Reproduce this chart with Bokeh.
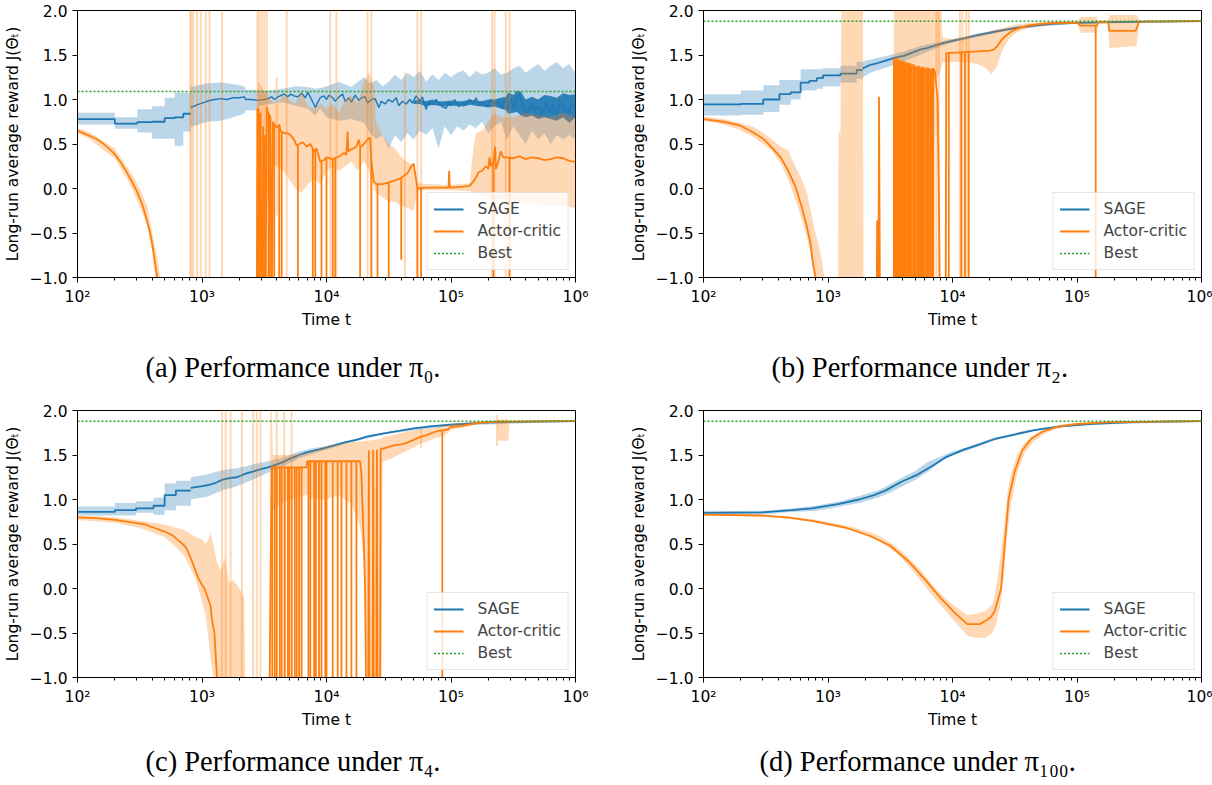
from bokeh.plotting import figure
from bokeh.models import Range1d, FixedTicker, CustomJSTickFormatter, Legend, LegendItem
from bokeh.layouts import row, column
from bokeh.embed import file_html
from bokeh.resources import INLINE

BLUE = "#1f77b4"
ORANGE = "#ff7f0e"
GREEN = "#2ca02c"
FLOOR = -1.5   # off-chart level (below the -1 limit)
ROOF = 2.5     # off-chart level (above the 2 limit)

# ---------------------------------------------------------------- data
# all times are given as log10(t)
captions = ["(a) Performance under \u03c0\u2080.", "(b) Performance under \u03c0\u2082.",
            "(c) Performance under \u03c0\u2084.", "(d) Performance under \u03c0\u2081\u2080\u2080."]
best_values = [1.09, 1.88, 1.88, 1.88]
x_ticks = [1e2, 1e3, 1e4, 1e5, 1e6]
y_ticks = [-1.0, -0.5, 0.0, 0.5, 1.0, 1.5, 2.0]

# ---- panel a (pi_0)
a_sage_step = [(2.00, .78, .72, .85), (2.30, .73, .67, .80), (2.48, .745, .63, .89), (2.60, .75, .56, .925),
               (2.70, .79, .56, 1.02), (2.78, .80, .48, 1.08), (2.85, .84, .64, 1.08)]
a_sage_step_end = 2.91
a_sage = [(2.91, .91), (2.96, .94), (3.00, .96), (3.04, .98), (3.10, 1.0), (3.15, 1.01), (3.20, 1.0), (3.25, 1.02),
          (3.30, 1.02), (3.34, 1.03), (3.35, 1.0), (3.40, 1.0), (3.45, .99), (3.50, 1.0), (3.53, 1.01), (3.56, 1.03),
          (3.58, 1.0), (3.61, 1.03), (3.64, 1.05), (3.66, 1.06), (3.69, 1.03), (3.71, 1.06), (3.74, 1.04), (3.77, 1.03),
          (3.80, 1.07), (3.83, 1.02), (3.85, 1.08), (3.88, 1.0), (3.91, .91), (3.93, .97), (3.95, 1.02), (3.98, 1.04),
          (4.00, 1.0), (4.02, 1.05), (4.05, 1.02), (4.07, .98), (4.10, 1.03), (4.13, 1.06), (4.15, .98), (4.18, 1.02),
          (4.20, .97), (4.23, 1.05), (4.26, .99), (4.28, 1.02), (4.31, 1.03), (4.33, .96), (4.36, 1.0), (4.39, 1.01),
          (4.42, .91), (4.44, .98), (4.47, .95), (4.50, 1.0), (4.53, .97), (4.56, 1.02), (4.58, .93), (4.61, .98),
          (4.64, .95), (4.67, 1.0), (4.69, .96), (4.72, 1.04), (4.75, .98), (4.77, 1.03), (4.80, .89), (4.82, .97),
          (4.85, .94), (4.88, 1.0), (4.90, .96), (4.93, .92), (4.96, .90), (4.98, .97), (5.00, .93), (5.03, 1.0),
          (5.06, .92), (5.09, .96), (5.12, .94), (5.15, 1.0), (5.18, .95), (5.20, 1.02), (5.23, .93), (5.26, .98),
          (5.29, .92), (5.32, 1.0), (5.35, .94), (5.38, .97), (5.41, .90), (5.44, 1.02), (5.46, .88), (5.48, 1.0),
          (5.50, .92), (5.52, .97), (5.55, 1.06), (5.58, .90), (5.61, .84), (5.64, .95), (5.67, .88), (5.70, .92),
          (5.73, .83), (5.76, .96), (5.79, .86), (5.82, .94), (5.85, .82), (5.88, .97), (5.91, .88), (5.94, .85),
          (5.97, .95), (6.00, .90)]
a_sage_dense = [(4.70, .95, .99), (4.75, .95, 1.0), (4.80, .92, .98), (4.85, .94, 1.0), (4.90, .93, .98),
                (4.95, .92, .98), (5.00, .93, .99), (5.05, .93, .98), (5.10, .92, .98), (5.15, .94, 1.0),
                (5.20, .93, .99), (5.25, .92, .98), (5.30, .91, 1.0), (5.35, .92, 1.0), (5.40, .90, 1.02),
                (5.44, .88, 1.03), (5.46, .84, 1.08), (5.50, .85, 1.05), (5.53, .86, 1.10), (5.56, .82, 1.09),
                (5.60, .80, 1.0), (5.65, .82, 1.03), (5.70, .78, 1.0), (5.75, .80, 1.05), (5.80, .78, 1.04),
                (5.85, .76, 1.02), (5.90, .80, 1.07), (5.95, .74, 1.05), (6.00, .80, 1.06)]
a_sage_band = [(2.91, .69, 1.14), (3.04, .75, 1.18), (3.15, .76, 1.19), (3.25, .80, 1.17), (3.34, .84, 1.15),
               (3.35, .88, 1.11), (3.45, .88, 1.11), (3.46, .93, 1.10), (3.55, .95, 1.10), (3.65, .97, 1.12),
               (3.75, .93, 1.15), (3.85, .90, 1.14), (3.91, .82, 1.12), (3.95, .90, 1.13), (4.00, .80, 1.15),
               (4.10, .76, 1.20), (4.20, .78, 1.14), (4.30, .74, 1.25), (4.35, .62, 1.18), (4.40, .55, 1.22),
               (4.45, .60, 1.15), (4.50, .45, 1.20), (4.55, .60, 1.28), (4.60, .52, 1.22), (4.65, .62, 1.30),
               (4.70, .55, 1.25), (4.75, .65, 1.32), (4.80, .60, 1.20), (4.85, .68, 1.28), (4.90, .45, 1.22),
               (4.95, .70, 1.30), (5.00, .60, 1.25), (5.05, .70, 1.30), (5.10, .65, 1.33), (5.15, .72, 1.25),
               (5.20, .68, 1.32), (5.25, .75, 1.28), (5.30, .62, 1.30), (5.35, .70, 1.35), (5.40, .75, 1.28),
               (5.45, .55, 1.30), (5.50, .70, 1.35), (5.55, .60, 1.38), (5.60, .50, 1.30), (5.65, .65, 1.35),
               (5.70, .55, 1.40), (5.75, .62, 1.32), (5.80, .50, 1.38), (5.85, .60, 1.42), (5.90, .55, 1.35),
               (5.95, .60, 1.40), (6.00, .55, 1.30)]
a_ac = [(2.00, .65), (2.05, .62), (2.10, .59), (2.16, .55), (2.22, .49), (2.29, .40), (2.35, .29), (2.40, .17),
        (2.44, .07), (2.48, -.04), (2.52, -.18), (2.55, -.32), (2.58, -.48), (2.60, -.62), (2.62, -.80), (2.64, -1.0),
        (2.66, FLOOR), (3.44, FLOOR), (3.445, .90), (3.45, FLOOR), (3.47, .85), (3.48, FLOOR), (3.50, .60),
        (3.51, FLOOR), (3.52, .92), (3.53, .85), (3.55, .80), (3.56, FLOOR), (3.57, .75), (3.60, .68), (3.62, .72),
        (3.63, .65), (3.66, .62), (3.69, .62), (3.71, .60), (3.74, .55), (3.76, .48), (3.78, .50), (3.81, .52),
        (3.84, .47), (3.87, .50), (3.90, .42), (3.92, .45), (3.95, .30), (3.98, .32), (4.00, .35), (4.05, .33),
        (4.10, .36), (4.14, .40), (4.16, .38), (4.17, .64), (4.175, .42), (4.20, .44), (4.24, .47), (4.26, .55),
        (4.27, .46), (4.30, .50), (4.33, .55), (4.35, .57), (4.36, .30), (4.38, .08), (4.40, .05), (4.45, .05),
        (4.50, .07), (4.55, .09), (4.60, .12), (4.65, .17), (4.68, .25), (4.70, .28), (4.72, .10), (4.73, .00),
        (4.80, .01), (4.90, .01), (4.98, .01), (4.985, .20), (4.99, .01), (5.10, .02), (5.15, .03), (5.18, .08),
        (5.20, .12), (5.22, .18), (5.25, .20), (5.28, .25), (5.30, .22), (5.31, .35), (5.32, .25), (5.34, .30),
        (5.355, .47), (5.36, .22), (5.38, .30), (5.40, .42), (5.42, .35), (5.45, .35), (5.50, .34), (5.55, .36),
        (5.60, .33), (5.65, .35), (5.70, .34), (5.75, .32), (5.80, .33), (5.85, .35), (5.90, .34), (5.95, .31),
        (6.00, .30)]
a_ac_band = [(2.00, .62, .68), (2.10, .55, .63), (2.20, .44, .54), (2.30, .34, .45), (2.40, .10, .24),
             (2.45, -.04, .13), (2.50, -.20, .00), (2.56, -.42, -.20), (2.60, -.72, -.50), (2.63, -1.1, -.70),
             (2.65, -1.3, -.85), (2.68, FLOOR, -1.2), (2.70, FLOOR, FLOOR), (3.44, FLOOR, FLOOR), (3.45, FLOOR, 1.2),
             (3.50, -.50, 1.10), (3.55, .30, 1.0), (3.60, .25, .95), (3.65, .20, 1.05), (3.70, .10, 1.0),
             (3.75, .00, .95), (3.80, -.05, 1.10), (3.85, .05, .92), (3.90, .10, .90), (3.95, .05, .95),
             (4.00, .20, .90), (4.05, .25, .95), (4.10, .20, .85), (4.15, .25, 1.0), (4.20, .30, 1.05),
             (4.25, .20, .95), (4.30, .30, 1.20), (4.34, .20, 1.30), (4.38, .00, 1.15), (4.40, -.05, .75),
             (4.45, -.10, .60), (4.50, -.15, .50), (4.55, -.15, .45), (4.60, -.20, .35), (4.65, -.22, .30),
             (4.70, -.25, .25), (4.73, -.02, .06), (4.80, -.02, .05), (5.00, -.02, .04), (5.15, -.03, .06),
             (5.18, -.05, .45), (5.20, -.05, .62), (5.25, -.08, .65), (5.30, -.10, .75), (5.35, -.12, .85),
             (5.40, -.12, .80), (5.50, -.15, .80), (5.60, -.17, .85), (5.70, -.18, .82), (5.80, -.20, .80),
             (5.90, -.20, .85), (6.00, -.22, .80)]
a_ac_light = [(2.905, FLOOR, ROOF), (2.915, FLOOR, ROOF), (2.93, FLOOR, ROOF), (2.96, FLOOR, ROOF),
              (2.99, FLOOR, ROOF), (3.03, FLOOR, ROOF), (3.06, FLOOR, ROOF), (3.16, FLOOR, ROOF),
              (3.445, FLOOR, ROOF), (3.46, FLOOR, ROOF), (3.48, FLOOR, ROOF), (3.50, FLOOR, ROOF),
              (3.52, FLOOR, ROOF), (3.60, -.30, 1.25), (3.68, FLOOR, ROOF), (4.03, FLOOR, ROOF),
              (4.08, FLOOR, ROOF), (4.33, FLOOR, ROOF), (4.36, FLOOR, ROOF), (4.63, -1.0, 1.3),
              (4.73, FLOOR, ROOF), (4.76, FLOOR, ROOF), (5.33, FLOOR, ROOF), (5.35, FLOOR, ROOF),
              (5.44, FLOOR, ROOF), (5.47, FLOOR, ROOF)]
a_ac_drops = [(3.455, .90, FLOOR), (3.465, .85, FLOOR), (3.49, .70, FLOOR), (3.505, .60, FLOOR), (3.535, .85, FLOOR),
              (3.545, .82, FLOOR), (3.58, .72, FLOOR), (3.62, .72, FLOOR), (3.64, .64, FLOOR), (3.77, .48, FLOOR),
              (3.89, .45, FLOOR), (3.91, .44, FLOOR), (3.96, .30, FLOOR), (4.00, .35, FLOOR), (4.05, .33, FLOOR),
              (4.07, .34, FLOOR), (4.27, .46, FLOOR), (4.36, .30, FLOOR), (4.41, .05, FLOOR), (4.50, .07, FLOOR),
              (4.60, .12, -.80), (4.73, .00, FLOOR), (4.76, .01, FLOOR), (5.34, .30, FLOOR), (5.47, .35, FLOOR)]

# ---- panel b (pi_2)
b_sage_step = [(2.00, .945, .82, 1.06), (2.30, .95, .83, 1.10), (2.48, 1.0, .86, 1.16), (2.61, 1.06, .94, 1.22),
               (2.70, 1.08, 1.0, 1.22), (2.78, 1.19, 1.10, 1.34), (2.85, 1.21, 1.10, 1.34), (2.91, 1.24, 1.12, 1.34),
               (2.96, 1.27, 1.15, 1.35), (3.10, 1.29, 1.19, 1.38), (3.23, 1.33, 1.23, 1.42)]
b_sage_step_end = 3.28
b_sage = [(3.28, 1.35), (3.34, 1.39), (3.40, 1.41), (3.47, 1.44), (3.54, 1.47), (3.61, 1.49), (3.68, 1.53),
          (3.74, 1.56), (3.80, 1.58), (3.87, 1.61), (3.94, 1.64), (4.00, 1.66), (4.10, 1.69), (4.19, 1.72),
          (4.30, 1.75), (4.41, 1.78), (4.53, 1.81), (4.66, 1.83), (4.80, 1.85), (5.00, 1.86), (5.30, 1.87),
          (5.60, 1.876), (6.00, 1.88)]
b_sage_band = [(3.28, 1.25, 1.43), (3.34, 1.30, 1.45), (3.47, 1.36, 1.49), (3.61, 1.43, 1.54), (3.74, 1.50, 1.60),
               (3.87, 1.58, 1.64), (4.00, 1.64, 1.68), (4.20, 1.70, 1.74), (4.40, 1.765, 1.795), (4.70, 1.82, 1.845),
               (5.00, 1.85, 1.87), (6.00, 1.875, 1.885)]
b_ac = [(2.00, .78), (2.16, .75), (2.29, .71), (2.40, .63), (2.48, .56), (2.55, .46), (2.62, .35), (2.68, .20),
        (2.74, .015), (2.79, -.21), (2.83, -.43), (2.86, -.62), (2.88, -.85), (2.90, -1.0), (2.92, FLOOR),
        (3.39, FLOOR), (3.395, -.36), (3.40, FLOOR), (3.405, FLOOR), (3.41, 1.03), (3.418, FLOOR), (3.84, FLOOR),
        (3.845, 1.35), (3.86, 1.30), (3.88, 1.0), (3.89, .0), (3.90, FLOOR), (3.945, FLOOR), (3.95, 1.52),
        (4.20, 1.54), (4.30, 1.55), (4.33, 1.56), (4.36, 1.60), (4.40, 1.68), (4.44, 1.73), (4.48, 1.77),
        (4.53, 1.80), (4.60, 1.83), (4.70, 1.85), (4.80, 1.86), (5.00, 1.865), (5.03, 1.83), (5.16, 1.83),
        (5.17, 1.87), (5.25, 1.87), (5.26, 1.77), (5.47, 1.77), (5.50, 1.875), (6.00, 1.88)]
b_ac_band = [(2.00, .76, .81), (2.16, .72, .78), (2.29, .66, .74), (2.40, .58, .69), (2.48, .50, .63),
             (2.55, .42, .55), (2.62, .28, .47), (2.68, .10, .43), (2.72, -.05, .30), (2.78, -.30, .13),
             (2.83, -.55, -.05), (2.87, -.80, -.30), (2.89, -1.0, -.45), (2.92, FLOOR, -.60), (2.95, FLOOR, -.80),
             (2.97, FLOOR, -1.0), (2.99, FLOOR, FLOOR), (3.08, FLOOR, FLOOR), (3.085, FLOOR, .65), (3.10, FLOOR, .60),
             (3.11, FLOOR, ROOF), (3.28, FLOOR, ROOF), (3.285, FLOOR, FLOOR), (3.52, FLOOR, FLOOR),
             (3.53, FLOOR, ROOF), (3.84, FLOOR, ROOF), (3.86, 1.20, ROOF), (3.90, 1.30, ROOF), (3.92, 1.42, 1.70),
             (4.00, 1.42, 1.68), (4.10, 1.42, 1.70), (4.20, 1.40, 1.73), (4.27, 1.35, 1.75), (4.31, 1.28, 1.77),
             (4.35, 1.35, 1.79), (4.40, 1.55, 1.80), (4.45, 1.67, 1.82), (4.50, 1.74, 1.84), (4.60, 1.80, 1.86),
             (4.80, 1.84, 1.87), (5.00, 1.85, 1.875), (5.03, 1.75, 1.93), (5.16, 1.75, 1.93), (5.17, 1.86, 1.885),
             (5.25, 1.86, 1.885), (5.26, 1.58, 1.95), (5.48, 1.60, 1.95), (5.50, 1.87, 1.885), (6.00, 1.875, 1.885)]
b_ac_light = [(3.87, FLOOR, ROOF), (3.89, FLOOR, ROOF), (4.06, FLOOR, ROOF), (4.08, FLOOR, ROOF),
              (4.11, FLOOR, ROOF), (4.13, FLOOR, ROOF)]
b_ac_dense = [(3.530, 1.46), (3.540, 1.45), (3.550, 1.47), (3.560, 1.44), (3.570, 1.45), (3.580, 1.43),
              (3.595, 1.44), (3.605, 1.42), (3.615, 1.43), (3.625, 1.41), (3.640, 1.42), (3.650, 1.40),
              (3.660, 1.41), (3.670, 1.39), (3.685, 1.40), (3.695, 1.38), (3.705, 1.38), (3.720, 1.37),
              (3.730, 1.38), (3.740, 1.36), (3.755, 1.37), (3.765, 1.36), (3.775, 1.36), (3.790, 1.35),
              (3.800, 1.36), (3.810, 1.35), (3.825, 1.34), (3.835, 1.35), (3.845, 1.34)]
b_ac_drops = [(3.97, 1.53, FLOOR), (4.07, 1.53, FLOOR), (4.10, 1.54, FLOOR), (4.13, 1.54, FLOOR), (5.15, 1.83, FLOOR)]

# ---- panel c (pi_4)
c_sage_step = [(2.00, .86, .82, .92), (2.30, .88, .82, .96), (2.47, .90, .85, .98), (2.61, .93, .83, 1.02),
               (2.70, 1.05, .88, 1.18), (2.79, 1.10, .93, 1.21)]
c_sage_step_end = 2.91
c_sage = [(2.91, 1.13), (3.00, 1.15), (3.04, 1.16), (3.10, 1.18), (3.16, 1.22), (3.22, 1.24), (3.28, 1.25),
          (3.35, 1.29), (3.40, 1.31), (3.47, 1.34), (3.53, 1.36), (3.59, 1.39), (3.65, 1.42), (3.71, 1.46),
          (3.78, 1.50), (3.84, 1.53), (3.90, 1.55), (3.99, 1.58), (4.07, 1.61), (4.14, 1.64), (4.24, 1.67),
          (4.33, 1.71), (4.45, 1.74), (4.58, 1.77), (4.70, 1.80), (4.85, 1.825), (5.00, 1.84), (5.22, 1.86),
          (5.50, 1.873), (6.00, 1.88)]
c_sage_band = [(2.91, 1.0, 1.25), (3.04, 1.03, 1.28), (3.16, 1.10, 1.33), (3.28, 1.15, 1.35), (3.40, 1.22, 1.39),
               (3.53, 1.30, 1.43), (3.65, 1.37, 1.47), (3.78, 1.46, 1.54), (3.90, 1.52, 1.58), (4.00, 1.56, 1.60),
               (4.20, 1.645, 1.675), (4.50, 1.74, 1.765), (5.00, 1.83, 1.85), (6.00, 1.875, 1.885)]
c_ac = [(2.00, .80), (2.15, .79), (2.30, .77), (2.45, .74), (2.54, .72), (2.62, .68), (2.70, .64), (2.76, .60),
        (2.82, .53), (2.86, .48), (2.88, .44), (2.91, .34), (2.94, .23), (2.97, .12), (3.00, .04), (3.02, .0),
        (3.05, -.12), (3.07, -.20), (3.08, -.35), (3.10, -.50), (3.11, -.75), (3.12, -1.0), (3.13, FLOOR),
        (3.54, FLOOR), (3.56, 1.36), (3.84, 1.36), (3.845, 1.43), (4.27, 1.43), (4.28, 1.30), (4.29, .90),
        (4.30, .50), (4.31, .0), (4.32, FLOOR), (4.335, FLOOR), (4.34, 1.55), (4.345, FLOOR), (4.37, FLOOR),
        (4.375, 1.56), (4.38, FLOOR), (4.40, FLOOR), (4.405, 1.56), (4.41, FLOOR), (4.43, FLOOR), (4.435, 1.57),
        (4.45, 1.57), (4.50, 1.59), (4.55, 1.61), (4.60, 1.62), (4.65, 1.64), (4.70, 1.67), (4.75, 1.70),
        (4.80, 1.72), (4.85, 1.75), (4.90, 1.77), (4.95, 1.78), (4.98, 1.79), (4.99, 1.81), (5.10, 1.83),
        (5.22, 1.86), (5.30, 1.87), (5.40, 1.875), (6.00, 1.88)]
c_ac_band = [(2.00, .77, .82), (2.30, .74, .80), (2.50, .68, .76), (2.70, .58, .72), (2.80, .45, .68),
             (2.85, .38, .66), (2.90, .25, .62), (2.95, .10, .58), (3.00, -.15, .55), (3.03, -.30, .50),
             (3.05, -.55, .55), (3.07, -.80, .62), (3.09, -1.0, .50), (3.12, FLOOR, .30), (3.15, FLOOR, .20),
             (3.18, FLOOR, .35), (3.22, FLOOR, .05), (3.25, FLOOR, .10), (3.30, FLOOR, .0), (3.34, FLOOR, -.10),
             (3.35, FLOOR, FLOOR), (3.54, FLOOR, FLOOR), (3.55, FLOOR, ROOF), (3.57, .90, 1.50), (3.70, 1.0, 1.50),
             (3.84, 1.05, 1.52), (3.90, 1.0, 1.55), (4.00, 1.0, 1.60), (4.10, 1.05, 1.62), (4.20, .95, 1.65),
             (4.27, .70, 1.65), (4.30, .30, 1.66), (4.33, FLOOR, 1.66), (4.44, FLOOR, 1.68), (4.45, 1.42, 1.70),
             (4.55, 1.48, 1.73), (4.65, 1.55, 1.76), (4.75, 1.62, 1.78), (4.85, 1.68, 1.80), (4.95, 1.72, 1.83),
             (5.00, 1.78, 1.85), (5.10, 1.81, 1.86), (5.20, 1.84, 1.87), (5.30, 1.86, 1.88), (5.37, 1.86, 1.885),
             (5.38, 1.66, 1.90), (5.46, 1.66, 1.90), (5.47, 1.87, 1.885), (6.00, 1.875, 1.885)]
c_ac_light = [(3.16, FLOOR, ROOF), (3.19, FLOOR, ROOF), (3.23, FLOOR, ROOF), (3.32, FLOOR, ROOF),
              (3.41, FLOOR, ROOF), (3.44, FLOOR, ROOF), (3.47, FLOOR, ROOF), (3.60, FLOOR, ROOF),
              (3.66, FLOOR, ROOF), (3.72, FLOOR, ROOF), (4.76, 1.58, 1.80), (5.37, 1.60, 1.95)]
c_ac_drops = [(3.565, 1.36, FLOOR), (3.585, 1.36, FLOOR), (3.60, 1.36, FLOOR), (3.625, 1.36, FLOOR),
              (3.64, 1.36, FLOOR), (3.665, 1.36, FLOOR), (3.69, 1.36, FLOOR), (3.70, 1.36, FLOOR),
              (3.72, 1.36, FLOOR), (3.745, 1.36, FLOOR), (3.76, 1.36, FLOOR), (3.78, 1.36, FLOOR),
              (3.80, 1.36, FLOOR), (3.855, 1.43, FLOOR), (3.87, 1.43, FLOOR), (3.90, 1.43, FLOOR),
              (3.915, 1.43, FLOOR), (3.94, 1.43, FLOOR), (3.96, 1.43, FLOOR), (3.99, 1.43, FLOOR),
              (4.00, 1.43, FLOOR), (4.05, 1.43, FLOOR), (4.09, 1.43, FLOOR), (4.12, 1.43, FLOOR),
              (4.16, 1.43, FLOOR), (4.20, 1.43, FLOOR), (4.24, 1.43, FLOOR), (4.93, 1.78, FLOOR)]

# ---- panel d (pi_100)
d_sage = [(2.00, .85), (2.46, .855), (2.71, .88), (2.87, .90), (3.09, .95), (3.25, 1.0), (3.37, 1.05), (3.46, 1.10),
          (3.59, 1.20), (3.72, 1.28), (3.84, 1.38), (3.94, 1.47), (4.09, 1.56), (4.22, 1.62), (4.34, 1.68),
          (4.50, 1.73), (4.66, 1.78), (4.85, 1.82), (5.13, 1.85), (5.44, 1.87), (6.00, 1.88)]
d_sage_band = [(2.00, .83, .87), (2.50, .835, .875), (2.70, .86, .90), (2.90, .87, .93), (3.10, .92, .98),
               (3.25, .96, 1.04), (3.40, 1.02, 1.10), (3.50, 1.08, 1.17), (3.60, 1.15, 1.25), (3.70, 1.22, 1.32),
               (3.80, 1.31, 1.42), (3.90, 1.42, 1.48), (4.00, 1.50, 1.54), (4.10, 1.54, 1.58), (4.30, 1.65, 1.68),
               (4.60, 1.76, 1.78), (5.00, 1.835, 1.85), (6.00, 1.875, 1.885)]
d_ac = [(2.00, .83), (2.46, .82), (2.68, .80), (2.87, .76), (3.15, .68), (3.34, .59), (3.50, .48), (3.65, .30),
        (3.78, .10), (3.90, -.10), (4.03, -.29), (4.12, -.40), (4.17, -.40), (4.22, -.40), (4.27, -.36),
        (4.31, -.32), (4.34, -.25), (4.37, -.10), (4.39, .0), (4.42, .50), (4.45, 1.0), (4.50, 1.32), (4.56, 1.55),
        (4.63, 1.68), (4.72, 1.76), (4.85, 1.82), (5.00, 1.85), (5.28, 1.87), (6.00, 1.88)]
d_ac_band = [(2.00, .82, .84), (2.50, .81, .83), (2.90, .745, .775), (3.20, .65, .69), (3.40, .54, .60),
             (3.55, .40, .47), (3.65, .25, .34), (3.75, .08, .20), (3.85, -.10, .02), (3.95, -.26, -.12),
             (4.05, -.42, -.23), (4.12, -.53, -.30), (4.20, -.56, -.28), (4.27, -.55, -.25), (4.32, -.50, -.18),
             (4.35, -.40, .0), (4.38, -.22, .30), (4.41, .10, .65), (4.44, .60, 1.05), (4.47, .95, 1.30),
             (4.52, 1.30, 1.50), (4.58, 1.52, 1.64), (4.65, 1.65, 1.72), (4.75, 1.75, 1.79), (4.90, 1.82, 1.85),
             (5.20, 1.86, 1.875), (6.00, 1.875, 1.885)]

FONT_PX = "15.5px"


# ---------------------------------------------------------------- helpers
def T(v):
    return 10 ** v


def step_rows(rows, end):
    """Turn step definitions (lt, y, lo, hi) into a stair polyline."""
    out = []
    for i, r in enumerate(rows):
        if i > 0:
            out.append((r[0],) + tuple(rows[i - 1][1:]))
        out.append(tuple(r))
    out.append((end,) + tuple(rows[-1][1:]))
    return out


def draw_line(p, pairs, color, width=1.8):
    return p.line([T(a) for a, _ in pairs], [b for _, b in pairs], line_color=color, line_width=width)


def draw_band(p, triples, color, alpha=0.3):
    p.varea(x=[T(t[0]) for t in triples], y1=[t[1] for t in triples], y2=[t[2] for t in triples],
            fill_color=color, fill_alpha=alpha)


def draw_segs(p, triples, color, alpha, width):
    xs = [T(t[0]) for t in triples]
    p.segment(x0=xs, y0=[t[1] for t in triples], x1=xs, y1=[t[2] for t in triples],
              line_color=color, line_alpha=alpha, line_width=width)


def make_fig(caption, left, right, bottom, title_standoff, title_offset):
    p = figure(x_axis_type="log", x_range=Range1d(1e2, 1e6), y_range=Range1d(-1, 2),
               frame_width=498, frame_height=267, min_border_left=left, min_border_right=right,
               min_border_top=10, min_border_bottom=bottom, output_backend="svg", toolbar_location=None,
               title=caption, title_location="below")
    p.grid.visible = False
    p.outline_line_color = "black"
    p.outline_line_alpha = 1.0
    p.outline_line_width = 1
    p.background_fill_color = "white"
    p.border_fill_color = "white"
    p.xaxis.ticker = FixedTicker(ticks=x_ticks,
                                 minor_ticks=[m * x for x in x_ticks[:-1] for m in range(2, 10)])
    p.yaxis.ticker = FixedTicker(ticks=y_ticks)
    p.xaxis.formatter = CustomJSTickFormatter(
        code="const s={2:'\u00b2',3:'\u00b3',4:'\u2074',5:'\u2075',6:'\u2076'};"
             "return '10'+s[Math.round(Math.log10(tick))];")
    p.yaxis.formatter = CustomJSTickFormatter(
        code="return (tick<0?'\u2212':'')+Math.abs(tick).toFixed(1);")
    for ax in p.axis:
        ax.axis_line_color = "black"
        ax.major_tick_line_color = "black"
        ax.minor_tick_line_color = "black"
        ax.major_tick_in = 0
        ax.major_tick_out = 5
        ax.minor_tick_in = 0
        ax.minor_tick_out = 3
        ax.major_label_text_font = "DejaVu Sans"
        ax.major_label_text_font_size = FONT_PX
        ax.major_label_text_color = "black"
        ax.axis_label_text_font = "DejaVu Sans"
        ax.axis_label_text_font_size = FONT_PX
        ax.axis_label_text_font_style = "normal"
        ax.axis_label_text_color = "black"
    p.yaxis.minor_tick_line_color = None
    p.xaxis.axis_label = "Time t"
    p.xaxis.axis_label_standoff = 2
    p.yaxis.axis_label = "Long-run average reward J(\u0398\u209c)"
    p.yaxis.axis_label_standoff = 5
    p.title.text_font = "Liberation Serif"
    p.title.text_font_size = "28.5px"
    p.title.text_font_style = "normal"
    p.title.text_color = "black"
    p.title.align = "left"
    p.title.offset = title_offset
    p.title.standoff = title_standoff
    return p


def finish(p, r_sage, r_ac, best):
    r_best = p.line([x_ticks[0], x_ticks[-1]], [best, best], line_color=GREEN, line_width=1.5, line_dash="2 2")
    legend = Legend(items=[LegendItem(label="SAGE", renderers=[r_sage]),
                           LegendItem(label="Actor-critic", renderers=[r_ac]),
                           LegendItem(label="Best", renderers=[r_best])],
                    location="bottom_right", margin=7, padding=6, spacing=2,
                    glyph_width=30, glyph_height=20, label_height=20, label_standoff=14,
                    label_text_font="DejaVu Sans", label_text_font_size=FONT_PX,
                    border_line_color="#cccccc", border_line_width=1,
                    background_fill_color="white", background_fill_alpha=0.8)
    p.add_layout(legend)


# ---------------------------------------------------------------- panels
pa = make_fig(captions[0], 69, 51, 118, 36, 68)
draw_band(pa, [(r[0], r[2], r[3]) for r in step_rows(a_sage_step, a_sage_step_end)], BLUE)
draw_band(pa, a_sage_band, BLUE)
rs = draw_line(pa, [(r[0], r[1]) for r in step_rows(a_sage_step, a_sage_step_end)], BLUE)
draw_band(pa, a_sage_dense, BLUE, alpha=0.9)
draw_line(pa, a_sage, BLUE, width=1.4)
draw_band(pa, a_ac_band, ORANGE)
draw_segs(pa, a_ac_light, ORANGE, 0.3, 2)
ra = draw_line(pa, a_ac, ORANGE)
draw_segs(pa, a_ac_drops, ORANGE, 1.0, 1.8)
finish(pa, rs, ra, best_values[0])

pb = make_fig(captions[1], 69, 11, 118, 36, 68)
draw_band(pb, [(r[0], r[2], r[3]) for r in step_rows(b_sage_step, b_sage_step_end)], BLUE)
draw_band(pb, b_sage_band, BLUE)
rs = draw_line(pb, [(r[0], r[1]) for r in step_rows(b_sage_step, b_sage_step_end)], BLUE)
draw_line(pb, b_sage, BLUE)
draw_band(pb, b_ac_band, ORANGE)
draw_segs(pb, b_ac_light, ORANGE, 0.3, 2)
ra = draw_line(pb, b_ac, ORANGE)
draw_segs(pb, [(t, FLOOR, top) for t, top in b_ac_dense], ORANGE, 1.0, 2.0)
draw_segs(pb, b_ac_drops, ORANGE, 1.0, 1.8)
finish(pb, rs, ra, best_values[1])

pc = make_fig(captions[2], 69, 51, 97, 24, 68)
draw_band(pc, [(r[0], r[2], r[3]) for r in step_rows(c_sage_step, c_sage_step_end)], BLUE)
draw_band(pc, c_sage_band, BLUE)
rs = draw_line(pc, [(r[0], r[1]) for r in step_rows(c_sage_step, c_sage_step_end)], BLUE)
draw_line(pc, c_sage, BLUE)
draw_band(pc, c_ac_band, ORANGE)
draw_segs(pc, c_ac_light, ORANGE, 0.3, 2)
ra = draw_line(pc, c_ac, ORANGE)
draw_segs(pc, c_ac_drops, ORANGE, 1.0, 1.8)
finish(pc, rs, ra, best_values[2])

pd_ = make_fig(captions[3], 69, 11, 97, 24, 56)
draw_band(pd_, d_sage_band, BLUE)
rs = draw_line(pd_, d_sage, BLUE)
draw_band(pd_, d_ac_band, ORANGE)
ra = draw_line(pd_, d_ac, ORANGE)
finish(pd_, rs, ra, best_values[3])

layout = column(row(pa, pb), row(pc, pd_))
open("out.html", "w").write(file_html(layout, INLINE))
